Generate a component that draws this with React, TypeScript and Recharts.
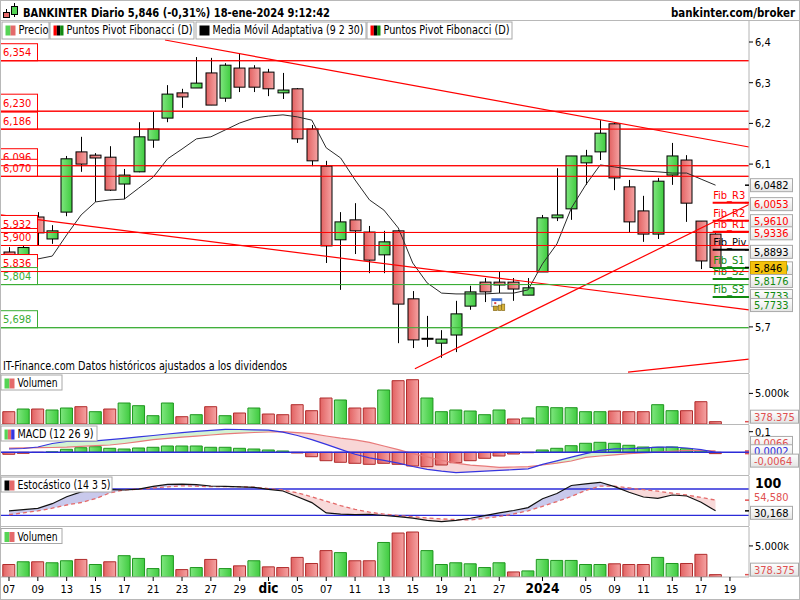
import React from 'react';
import {
  ComposedChart,
  Bar,
  Line,
  Area,
  XAxis,
  YAxis,
  ReferenceLine,
  ReferenceDot,
  Cell,
} from 'recharts';

const FONT = "'DejaVu Sans Condensed', 'Liberation Sans', Arial, sans-serif";
const RED = '#ff0000';
const PIVOT_GREEN = '#3aad35';
const FIB_GREEN = '#108a10';
const BLUE = '#2b2bd8';

// sessions 07-nov-2023 .. 18-ene-2024 (index 50 = 19-ene, empty slot on the axis)
const sessionDays = [
  '07', '08', '09', '10', '13', '14', '15', '16', '17', '20', '21', '22', '23', '24', '27', '28', '29', '30',
  '01', '04', '05', '06', '07', '08', '11', '12', '13', '14', '15', '18', '19', '20', '21', '22', '27', '28', '29',
  '02', '03', '04', '05', '08', '09', '10', '11', '12', '15', '16', '17', '18',
];

const tickIndex = [0, 2, 4, 6, 8, 10, 12, 14, 16, 18, 20, 22, 24, 26, 28, 30, 32, 34, 37, 40, 42, 44, 46, 48, 50];
const tickLabels = ['07', '09', '13', '15', '17', '21', '23', '27', '29', 'dic', '05', '07', '11', '13', '15', '19', '21', '27', '2024', '05', '09', '11', '15', '17', '19'];

const opens = [5.884, 5.855, 5.970, 5.916, 5.982, 6.130, 6.122, 6.117, 6.051, 6.081, 6.159, 6.213, 6.275, 6.287, 6.324, 6.262, 6.336, 6.336, 6.326, 6.275, 6.285, 6.186, 6.095, 5.914, 5.963, 5.933, 5.877, 5.936, 5.769, 5.672, 5.660, 5.680, 5.751, 5.810, 5.810, 5.810, 5.778, 5.835, 5.968, 5.990, 6.103, 6.130, 6.199, 6.044, 5.985, 5.928, 6.073, 6.110, 5.960, 5.928];
const highs = [5.896, 5.900, 5.982, 5.950, 6.120, 6.167, 6.127, 6.144, 6.088, 6.203, 6.228, 6.294, 6.285, 6.363, 6.361, 6.348, 6.373, 6.343, 6.334, 6.324, 6.287, 6.196, 6.108, 5.982, 6.004, 5.948, 5.936, 5.938, 5.788, 5.727, 5.692, 5.764, 5.801, 5.820, 5.837, 5.820, 5.820, 5.975, 6.090, 6.120, 6.135, 6.208, 6.201, 6.061, 6.022, 6.066, 6.152, 6.122, 5.960, 5.930];
const lows = [5.845, 5.850, 5.901, 5.904, 5.972, 6.081, 6.007, 6.034, 6.014, 6.080, 6.140, 6.203, 6.238, 6.287, 6.245, 6.253, 6.277, 6.277, 6.267, 6.260, 6.152, 6.095, 5.857, 5.791, 5.879, 5.832, 5.832, 5.660, 5.648, 5.651, 5.624, 5.638, 5.742, 5.761, 5.783, 5.764, 5.778, 5.835, 5.960, 5.963, 6.049, 6.110, 6.036, 5.931, 5.909, 5.916, 6.049, 5.958, 5.842, 5.844];
const closes = [5.860, 5.895, 5.931, 5.936, 6.113, 6.100, 6.115, 6.036, 6.073, 6.167, 6.186, 6.272, 6.265, 6.299, 6.245, 6.343, 6.289, 6.289, 6.285, 6.282, 6.162, 6.108, 5.899, 5.958, 5.936, 5.864, 5.909, 5.756, 5.668, 5.670, 5.670, 5.732, 5.786, 5.786, 5.803, 5.793, 5.796, 5.968, 5.975, 6.120, 6.120, 6.176, 6.066, 5.958, 5.928, 6.058, 6.120, 6.004, 5.862, 5.846];

// Media Móvil Adaptativa (9 2 30)
const adaptiveMA = [null, null, 5.867, 5.874, 5.926, 5.975, 6.007, 6.012, 6.014, 6.041, 6.068, 6.113, 6.137, 6.162, 6.167, 6.184, 6.201, 6.213, 6.218, 6.221, 6.216, 6.208, 6.140, 6.115, 6.061, 6.012, 5.987, 5.943, 5.857, 5.808, 5.783, 5.781, 5.781, 5.781, 5.783, 5.783, 5.791, 5.855, 5.904, 5.992, 6.049, 6.098, 6.093, 6.088, 6.083, 6.081, 6.078, 6.078, 6.063, 6.0482];

const volumes = [2010000, 2451000, 2451000, 2288000, 2614000, 2827000, 2010000, 2451000, 3431000, 2990000, 1356000, 3431000, 1193000, 1520000, 2827000, 1356000, 1797000, 2614000, 1634000, 1520000, 3154000, 2173000, 4248000, 3922000, 2614000, 2614000, 5556000, 7075000, 7239000, 4248000, 2010000, 2288000, 2124000, 1520000, 2288000, 817000, 980000, 2827000, 2663000, 2663000, 2010000, 2010000, 2124000, 2010000, 2010000, 3154000, 2173000, 2173000, 3644000, 378375];
const volumeUp = [0, 1, 0, 1, 1, 0, 1, 0, 1, 1, 1, 1, 0, 1, 0, 1, 0, 1, 0, 0, 0, 0, 0, 1, 0, 0, 1, 0, 0, 1, 1, 1, 1, 1, 1, 0, 1, 1, 1, 1, 1, 1, 0, 0, 0, 1, 1, 0, 0, 0];

// MACD (12 26 9)
const macdLine = [0.016, 0.0184, 0.0257, 0.0427, 0.0524, 0.0539, 0.0558, 0.0612, 0.068, 0.0752, 0.0816, 0.0888, 0.0951, 0.1015, 0.1063, 0.1112, 0.1107, 0.1092, 0.1078, 0.0981, 0.0816, 0.0617, 0.0383, 0.0141, -0.0097, -0.0267, -0.0393, -0.0524, -0.0689, -0.0825, -0.0917, -0.0985, -0.0947, -0.0913, -0.0879, -0.0845, -0.0801, -0.0587, -0.0413, -0.0238, -0.0063, 0.0097, 0.0165, 0.0175, 0.0204, 0.0248, 0.0257, 0.0209, 0.0126, 0.0002];
const macdSignal = [0.0199, 0.0214, 0.0223, 0.0233, 0.0252, 0.0291, 0.0325, 0.0354, 0.0427, 0.0515, 0.0612, 0.068, 0.0733, 0.0786, 0.084, 0.0893, 0.0932, 0.0961, 0.0985, 0.1, 0.0951, 0.0907, 0.0791, 0.0684, 0.0602, 0.0481, 0.0306, 0.0131, -0.0063, -0.0223, -0.0393, -0.0529, -0.0626, -0.0675, -0.0728, -0.0714, -0.0699, -0.0617, -0.0529, -0.0422, -0.0243, -0.018, -0.0121, -0.0063, -0.0034, 0.001, 0.0044, 0.0092, 0.0087, 0.0066];
const macdHist = [-0.0097, -0.005, -0.001, 0.002, 0.0146, 0.0223, 0.0272, 0.0194, 0.016, 0.0209, 0.0243, 0.0306, 0.0306, 0.0306, 0.0243, 0.0243, 0.0194, 0.016, 0.0112, 0.0063, -0.0034, -0.0214, -0.0408, -0.0485, -0.0534, -0.0583, -0.0534, -0.0583, -0.0665, -0.0699, -0.0617, -0.0505, -0.0408, -0.0291, -0.018, -0.0083, -0.002, 0.0112, 0.0194, 0.032, 0.0437, 0.0485, 0.0437, 0.034, 0.0257, 0.0243, 0.0257, 0.0175, 0.0078, -0.0064];

// Estocástico (14 3 5)
const stochK = [30.0, 32.8, 36.0, 46.5, 62.4, 73.4, 79.1, 78.4, 77.7, 79.8, 85.9, 90.5, 91.2, 89.8, 86.8, 85.9, 84.8, 83.7, 79.3, 75.4, 62.2, 49.0, 25.5, 22.7, 21.6, 22.0, 19.5, 17.0, 13.6, 8.6, 5.6, 8.4, 13.2, 19.1, 25.5, 30.9, 37.6, 57.9, 69.7, 88.0, 91.6, 95.3, 85.5, 72.5, 61.7, 58.8, 66.3, 64.0, 49.9, 30.168];
const stochD = [21.4, 25.7, 30.0, 36.2, 43.5, 49.2, 57.9, 71.1, 77.9, 79.8, 82.3, 85.0, 87.3, 86.4, 85.2, 85.2, 85.2, 84.1, 80.9, 77.7, 71.3, 62.2, 52.2, 42.1, 33.7, 27.1, 22.7, 19.3, 16.8, 13.8, 11.8, 10.2, 9.5, 13.2, 17.3, 23.0, 30.3, 40.5, 51.3, 63.1, 76.8, 86.6, 86.4, 82.5, 78.4, 75.0, 70.4, 66.3, 60.6, 54.58];

// pivot levels listed at the left edge
const pivotValues = [6.354, 6.23, 6.186, 6.096, 6.07, 5.932, 5.9, 5.836, 5.804, 5.698];
const pivotSupport = [0, 0, 0, 0, 0, 0, 0, 0, 1, 1];

// daily Fibonacci pivots (projected over the last session)
const fibNames = ['Fib_R3', 'Fib_R2', 'Fib_R1', 'Fib_Piv', 'Fib_S1', 'Fib_S2', 'Fib_S3'];
const fibValues = [6.0053, 5.961, 5.9336, 5.8893, 5.845, 5.8176, 5.7733];
const fibColors = [RED, RED, RED, '#000', FIB_GREEN, FIB_GREEN, FIB_GREEN];
const FIB_FROM = 48.8;

// trend lines: [index, price] pairs
const trendLines = [
  [[10.82, 6.405], [51.32, 6.142]],
  [[-0.6, 5.975], [51.32, 5.742]],
  [[28.15, 5.597], [51.32, 6.0007]],
  [[42.93, 5.589], [51.32, 5.621]],
];

const dividendIndex = 34;

const X_MIN = -0.624;
const X_MAX = 51.32;

type Tag = { value: number; text: string; color: string; dy: number; box: 'gray' | 'gold' | 'none' };

const priceTags: Tag[] = [
  { value: 6.0482, text: '6,0482', color: '#000', dy: 0, box: 'gray' },
  { value: 6.0053, text: '6,0053', color: RED, dy: 1.5, box: 'gray' },
  { value: 5.961, text: '5,9610', color: RED, dy: 0.5, box: 'gray' },
  { value: 5.9336, text: '5,9336', color: RED, dy: 1.5, box: 'gray' },
  { value: 5.8893, text: '5,8893', color: '#000', dy: 2, box: 'gray' },
  { value: 5.845, text: '5,8450', color: FIB_GREEN, dy: 0.5, box: 'gray' },
  { value: 5.846, text: '5,846', color: '#000', dy: 0.5, box: 'gold' },
  { value: 5.8176, text: '5,8176', color: FIB_GREEN, dy: 2, box: 'gray' },
  { value: 5.7733, text: '5,7733', color: FIB_GREEN, dy: -1, box: 'gray' },
  { value: 5.7733, text: '5,7733', color: FIB_GREEN, dy: 8, box: 'gray' },
];
const volumeTags: Tag[] = [{ value: 378375, text: '378.375', color: '#e05050', dy: -5, box: 'gray' }];
const macdTags: Tag[] = [
  { value: 0.0066, text: '0,0066', color: '#e05050', dy: -8, box: 'gray' },
  { value: 0.0002, text: '0,0002', color: BLUE, dy: -1, box: 'gray' },
  { value: -0.0064, text: '-0,0064', color: '#e05050', dy: 7, box: 'gray' },
];
const stochTags: Tag[] = [
  { value: 54.58, text: '54,580', color: '#e05050', dy: -3, box: 'none' },
  { value: 30.168, text: '30,168', color: '#000', dy: 2, box: 'gray' },
];

const rows = opens.map((o, i) => {
  const m = macdLine[i];
  const s = macdSignal[i];
  const k = stochK[i];
  const d = stochD[i];
  return {
    i,
    o,
    h: highs[i],
    l: lows[i],
    c: closes[i],
    range: [lows[i], highs[i]],
    ma: adaptiveMA[i],
    vol: volumes[i],
    macd: m,
    signal: s,
    hist: macdHist[i],
    macdAbove: m >= s ? [s, m] : [m, m],
    macdBelow: s > m ? [m, s] : [s, s],
    k,
    d,
    kAbove: k >= d ? [d, k] : [k, k],
    kBelow: d > k ? [k, d] : [d, d],
  };
});

const Candle = (props: any) => {
  const { x, y, width, height, payload } = props;
  if (payload == null || !isFinite(y) || !isFinite(height)) return null;
  const { o, h, l, c } = payload;
  const toY = (v: number) => y + ((h - v) / (h - l)) * height;
  const cx = Math.round(x + width / 2) + 0.5;
  const top = toY(Math.max(o, c));
  const bottom = toY(Math.min(o, c));
  const up = c >= o;
  return (
    <g>
      <line x1={cx} x2={cx} y1={y} y2={y + height} stroke="#000" strokeWidth={1} />
      <rect
        x={cx - 5.5}
        y={top}
        width={11}
        height={Math.max(bottom - top, 1)}
        fill={up ? 'url(#gUp)' : 'url(#gDn)'}
        stroke="#000"
        strokeWidth={1}
      />
    </g>
  );
};

const leftBox = (text: string, color: string) => (props: any) => {
  const vb = props.viewBox || {};
  const x = vb.x ?? 0;
  const y = vb.y ?? 0;
  return (
    <g>
      <rect x={x + 0.5} y={y - 17} width={37} height={17} fill="#fff" stroke={color} />
      <text x={x + 3} y={y - 4.5} fill={color} fontSize={11} fontFamily={FONT}>
        {text}
      </text>
    </g>
  );
};

const rightTag = (tag: Tag) => (props: any) => {
  const vb = props.viewBox || {};
  const edge = (vb.x ?? 0) + (vb.width ?? 0);
  const y0 = vb.y ?? 0;
  const cy = y0 + tag.dy;
  const w = tag.text.length * 6 + 6;
  return (
    <g>
      <line x1={edge - 4} x2={edge} y1={y0} y2={y0} stroke={tag.color} strokeWidth={1.5} />
      {tag.box !== 'none' && (
        <rect
          x={edge + 1.5}
          y={cy - 6.5}
          width={w}
          height={13}
          fill={tag.box === 'gold' ? '#f4c20d' : 'url(#gTag)'}
          stroke={tag.box === 'gold' ? '#caa000' : '#a9a9a9'}
        />
      )}
      <text x={edge + 5} y={cy + 4} fill={tag.color} fontSize={11} fontFamily={FONT}>
        {tag.text}
      </text>
    </g>
  );
};

const fibLabel = (name: string, color: string) => (props: any) => {
  const vb = props.viewBox || {};
  return (
    <text x={(vb.x ?? 0) + 0.5} y={(vb.y ?? 0) - 4} fill={color} fontSize={11} fontFamily={FONT}>
      {name}
    </text>
  );
};

const DividendIcon = (props: any) => {
  const { cx, cy } = props;
  if (!isFinite(cx) || !isFinite(cy)) return null;
  return (
    <g>
      <rect x={cx - 7.5} y={cy + 5.5} width={10} height={8} fill="#fff" stroke="#8aa0c8" />
      <rect x={cx - 7.5} y={cy + 5.5} width={10} height={2.5} fill="#3d6fd0" />
      <rect x={cx - 5} y={cy + 9} width={2} height={2} fill="#e04040" />
      <rect x={cx - 6} y={cy + 13} width={4} height={4.5} fill="#c9a227" stroke="#7a5e10" strokeWidth={0.6} />
      <rect x={cx - 1} y={cy + 12} width={3} height={5.5} fill="#d9b43a" stroke="#7a5e10" strokeWidth={0.6} />
      <rect x={cx + 2.5} y={cy + 11} width={3} height={6.5} fill="#d9b43a" stroke="#7a5e10" strokeWidth={0.6} />
    </g>
  );
};

const XTick = (props: any) => {
  const { x, y, payload } = props;
  const label = tickLabels[tickIndex.indexOf(payload.value)] ?? '';
  const bold = label === 'dic' || label === '2024';
  return (
    <text
      x={x}
      y={y + 10}
      textAnchor="middle"
      fontFamily={FONT}
      fontSize={bold ? 13.5 : 11}
      fontWeight={bold ? 'bold' : 'normal'}
      fill="#000"
    >
      {label}
    </text>
  );
};

const StochTick = (props: any) => (
  <text x={props.x} y={props.y + 7.5} fontFamily={FONT} fontSize={14} fontWeight="bold" fill="#000">
    100
  </text>
);

const axisTick = { fill: '#000', fontSize: 11, fontFamily: FONT };
const margin = { top: 0, right: 0, bottom: 0, left: 0 };
const hiddenX = (
  <XAxis type="number" dataKey="i" domain={[X_MIN, X_MAX]} allowDataOverflow hide />
);

function PricePanel() {
  return (
    <ComposedChart width={800} height={352} data={rows} margin={margin}>
      {hiddenX}
      <YAxis
        orientation="right"
        width={51}
        type="number"
        domain={[5.5867, 6.4516]}
        allowDataOverflow
        ticks={[6.4, 6.3, 6.2, 6.1, 5.7]}
        interval={0}
        tickFormatter={(v: number) => v.toFixed(1).replace('.', ',')}
        tick={axisTick}
        tickSize={4}
        tickMargin={2}
        tickLine={{ stroke: '#000' }}
        axisLine={{ stroke: '#b4b4b4' }}
      />
      {pivotValues.map((v, n) => (
        <ReferenceLine
          key={'pv' + n}
          y={v}
          stroke={pivotSupport[n] ? PIVOT_GREEN : RED}
          strokeWidth={1}
          ifOverflow="visible"
          zIndex={50}
        />
      ))}
      <Bar dataKey="range" barSize={12} shape={<Candle />} isAnimationActive={false} zIndex={100} />
      <Line
        dataKey="ma"
        type="linear"
        stroke="#2a2a2a"
        strokeWidth={1}
        dot={false}
        isAnimationActive={false}
        zIndex={200}
      />
      {trendLines.map((t, n) => (
        <ReferenceLine
          key={'tl' + n}
          segment={[
            { x: t[0][0], y: t[0][1] },
            { x: t[1][0], y: t[1][1] },
          ]}
          stroke={RED}
          strokeWidth={1.2}
          ifOverflow="visible"
          zIndex={300}
        />
      ))}
      {fibValues.map((v, n) => (
        <ReferenceLine
          key={'fib' + n}
          segment={[
            { x: FIB_FROM, y: v },
            { x: X_MAX, y: v },
          ]}
          stroke={fibColors[n]}
          strokeWidth={2}
          ifOverflow="visible"
          label={fibLabel(fibNames[n], fibColors[n])}
          zIndex={350}
        />
      ))}
      <ReferenceDot
        x={dividendIndex}
        y={lows[dividendIndex]}
        r={1}
        ifOverflow="visible"
        shape={<DividendIcon />}
        zIndex={360}
      />
      {pivotValues.map((v, n) => {
        const color = pivotSupport[n] ? PIVOT_GREEN : RED;
        return (
          <ReferenceLine
            key={'pb' + n}
            y={v}
            stroke="none"
            ifOverflow="visible"
            label={leftBox(v.toFixed(3).replace('.', ','), color)}
            zIndex={400}
          />
        );
      })}
      {pivotValues.map((v, n) => (
        <ReferenceLine
          key={'pv2' + n}
          y={v}
          stroke={pivotSupport[n] ? PIVOT_GREEN : RED}
          strokeWidth={1}
          ifOverflow="visible"
          segment={[
            { x: X_MIN, y: v },
            { x: X_MIN + 2.6, y: v },
          ]}
          zIndex={410}
        />
      ))}
      {priceTags.map((t, n) => (
        <ReferenceLine key={'pt' + n} y={t.value} stroke="none" ifOverflow="visible" label={rightTag(t)} zIndex={500} />
      ))}
    </ComposedChart>
  );
}

function VolumePanel({ max, withAxis }: { max: number; withAxis: boolean }) {
  return (
    <ComposedChart width={800} height={withAxis ? 73 : 50} data={rows} margin={margin}>
      {withAxis ? (
        <XAxis
          type="number"
          dataKey="i"
          domain={[X_MIN, X_MAX]}
          allowDataOverflow
          ticks={tickIndex}
          interval={0}
          height={23}
          tick={<XTick />}
          tickSize={4}
          tickMargin={2}
          tickLine={{ stroke: '#000' }}
          axisLine={{ stroke: '#b4b4b4' }}
        />
      ) : (
        hiddenX
      )}
      <YAxis
        orientation="right"
        width={51}
        type="number"
        domain={[0, max]}
        allowDataOverflow
        ticks={[5000000]}
        interval={0}
        tickFormatter={() => '5.000k'}
        tick={axisTick}
        tickSize={4}
        tickMargin={2}
        tickLine={{ stroke: '#000' }}
        axisLine={{ stroke: '#b4b4b4' }}
      />
      <Bar dataKey="vol" barSize={12} isAnimationActive={false}>
        {rows.map((r, n) => (
          <Cell
            key={n}
            fill={volumeUp[n] ? 'url(#gUp)' : 'url(#gDn)'}
            stroke={volumeUp[n] ? '#1f961f' : '#b02c2c'}
            strokeWidth={1}
          />
        ))}
      </Bar>
      {volumeTags.map((t, n) => (
        <ReferenceLine key={'vt' + n} y={t.value} stroke="none" ifOverflow="visible" label={rightTag(t)} />
      ))}
    </ComposedChart>
  );
}

function MacdPanel() {
  return (
    <ComposedChart width={800} height={50} data={rows} margin={margin}>
      {hiddenX}
      <YAxis
        orientation="right"
        width={51}
        type="number"
        domain={[-0.1102, 0.1325]}
        allowDataOverflow
        ticks={[0.1]}
        interval={0}
        tickFormatter={() => '0,1'}
        tick={axisTick}
        tickSize={4}
        tickMargin={2}
        tickLine={{ stroke: '#000' }}
        axisLine={{ stroke: '#b4b4b4' }}
      />
      <Area dataKey="macdAbove" type="linear" stroke="none" fill="#d3f3d3" fillOpacity={1} isAnimationActive={false} zIndex={50} />
      <Area dataKey="macdBelow" type="linear" stroke="none" fill="#f8d6d6" fillOpacity={1} isAnimationActive={false} zIndex={50} />
      <Bar dataKey="hist" barSize={12} isAnimationActive={false} zIndex={100}>
        {rows.map((r, n) => (
          <Cell
            key={n}
            fill={r.hist >= 0 ? 'url(#gUp)' : 'url(#gDn)'}
            stroke={r.hist >= 0 ? '#1f961f' : '#b02c2c'}
            strokeWidth={1}
          />
        ))}
      </Bar>
      <Line dataKey="signal" type="linear" stroke="#e87a7a" strokeWidth={1.2} dot={false} isAnimationActive={false} zIndex={200} />
      <Line dataKey="macd" type="linear" stroke="#3535e0" strokeWidth={1.2} dot={false} isAnimationActive={false} zIndex={210} />
      <ReferenceLine y={0} stroke={BLUE} strokeWidth={1.5} ifOverflow="visible" zIndex={300} />
      {macdTags.map((t, n) => (
        <ReferenceLine key={'mt' + n} y={t.value} stroke="none" ifOverflow="visible" label={rightTag(t)} zIndex={500} />
      ))}
    </ComposedChart>
  );
}

function StochPanel() {
  return (
    <ComposedChart width={800} height={50} data={rows} margin={margin}>
      {hiddenX}
      <YAxis
        orientation="right"
        width={51}
        type="number"
        domain={[-4.42, 109.66]}
        allowDataOverflow
        ticks={[100]}
        interval={0}
        tick={<StochTick />}
        tickSize={4}
        tickMargin={2}
        tickLine={false}
        axisLine={{ stroke: '#b4b4b4' }}
      />
      <Area dataKey="kAbove" type="linear" stroke="none" fill="#c9c9ec" fillOpacity={1} isAnimationActive={false} zIndex={50} />
      <Area dataKey="kBelow" type="linear" stroke="none" fill="#f8dada" fillOpacity={1} isAnimationActive={false} zIndex={50} />
      <ReferenceLine y={80} stroke={BLUE} strokeWidth={1.3} ifOverflow="visible" zIndex={100} />
      <ReferenceLine y={20} stroke={BLUE} strokeWidth={1.3} ifOverflow="visible" zIndex={100} />
      <Line
        dataKey="d"
        type="linear"
        stroke="#e46a6a"
        strokeWidth={1.3}
        strokeDasharray="4 3"
        dot={false}
        isAnimationActive={false}
        zIndex={200}
      />
      <Line dataKey="k" type="linear" stroke="#111" strokeWidth={1.2} dot={false} isAnimationActive={false} zIndex={210} />
      {stochTags.map((t, n) => (
        <ReferenceLine key={'st' + n} y={t.value} stroke="none" ifOverflow="visible" label={rightTag(t)} zIndex={500} />
      ))}
    </ComposedChart>
  );
}

const LegendBox = ({ x, w, y, h, colors, text, textW }: any) => (
  <g>
    <rect x={x + 0.5} y={y + 0.5} width={w} height={h} fill="#fff" stroke="#a8a8a8" />
    {colors.map((c: string, n: number) => (
      <rect key={n} x={x + 4 + (n * 10) / colors.length} y={y + 4} width={10 / colors.length} height={10} fill={c} />
    ))}
    <text
      x={x + 17}
      y={y + 12.5}
      fontFamily={FONT}
      fontSize={11.5}
      fill="#000"
      textLength={textW}
      lengthAdjust="spacingAndGlyphs"
    >
      {text}
    </text>
  </g>
);

function Chrome() {
  const sepY = [373.5, 424.5, 475.5, 526.5];
  return (
    <svg width={800} height={600} style={{ position: 'absolute', left: 0, top: 0, pointerEvents: 'none' }}>
      <rect x={0.5} y={0.5} width={799} height={599} fill="none" stroke="#b8b8b8" />
      <line x1={0} x2={800} y1={20.5} y2={20.5} stroke="#b8b8b8" />
      {sepY.map((y) => (
        <line key={y} x1={0} x2={749} y1={y} y2={y} stroke="#b8b8b8" />
      ))}
      {/* title icon */}
      <line x1={6.5} x2={6.5} y1={9} y2={18} stroke="#000" />
      <rect x={3.5} y={12.5} width={6} height={5} fill="#e46a6a" stroke="#000" />
      <line x1={14.5} x2={14.5} y1={3} y2={17} stroke="#000" />
      <rect x={11.5} y={6.5} width={6} height={8} fill="#55d455" stroke="#000" />
      <text x={23} y={16.5} fontFamily={FONT} fontSize={12.5} fontWeight="bold" fill="#000" textLength={307} lengthAdjust="spacingAndGlyphs">
        BANKINTER Diario 5,846 (-0,31%) 18-ene-2024 9:12:42
      </text>
      <text x={671} y={16.5} fontFamily={FONT} fontSize={12.5} fontWeight="bold" fill="#000" textLength={124} lengthAdjust="spacingAndGlyphs">
        bankinter.com/broker
      </text>
      <LegendBox x={1.5} y={21.5} w={47} h={17} colors={['#55d455', '#e46a6a']} text="Precio" textW={30} />
      <LegendBox x={49.5} y={21.5} w={144} h={17} colors={['#ff0000', '#000', '#108a10']} text="Puntos Pivot Fibonacci (D)" textW={126} />
      <LegendBox x={195.5} y={21.5} w={170} h={17} colors={['#000']} text="Media Móvil Adaptativa (9 2 30)" textW={151} />
      <LegendBox x={366.5} y={21.5} w={145} h={17} colors={['#ff0000', '#000', '#108a10']} text="Puntos Pivot Fibonacci (D)" textW={126} />
      <text x={3} y={370} fontFamily={FONT} fontSize={11.5} fill="#000" textLength={284} lengthAdjust="spacingAndGlyphs">
        IT-Finance.com  Datos históricos ajustados a los dividendos
      </text>
      <LegendBox x={0.5} y={374.5} w={61} h={15} colors={['#55d455', '#e46a6a']} text="Volumen" textW={40} />
      <LegendBox x={0.5} y={425.5} w={96} h={15} colors={['#55d455', '#e46a6a', '#3535e0']} text="MACD (12 26 9)" textW={76} />
      <LegendBox x={0.5} y={476.5} w={111} h={15} colors={['#000', '#e46a6a']} text="Estocástico (14 3 5)" textW={93} />
      <LegendBox x={0.5} y={528} w={61} h={15} colors={['#55d455', '#e46a6a']} text="Volumen" textW={40} />
    </svg>
  );
}

export default function App() {
  return (
    <div style={{ position: 'absolute', left: 0, top: 0, width: 800, height: 600, background: '#fff', overflow: 'hidden' }}>
      <svg width={0} height={0} style={{ position: 'absolute' }}>
        <defs>
          <linearGradient id="gUp" x1="0" y1="0" x2="1" y2="0">
            <stop offset="0%" stopColor="#7fe67f" />
            <stop offset="100%" stopColor="#3fcb3f" />
          </linearGradient>
          <linearGradient id="gDn" x1="0" y1="0" x2="1" y2="0">
            <stop offset="0%" stopColor="#e26262" />
            <stop offset="100%" stopColor="#f5a3a3" />
          </linearGradient>
          <linearGradient id="gTag" x1="0" y1="0" x2="0" y2="1">
            <stop offset="0%" stopColor="#ffffff" />
            <stop offset="100%" stopColor="#e4e4e4" />
          </linearGradient>
        </defs>
      </svg>
      <div style={{ position: 'absolute', left: 0, top: 21 }}>
        <PricePanel />
      </div>
      <div style={{ position: 'absolute', left: 0, top: 374 }}>
        <VolumePanel max={8170000} withAxis={false} />
      </div>
      <div style={{ position: 'absolute', left: 0, top: 425 }}>
        <MacdPanel />
      </div>
      <div style={{ position: 'absolute', left: 0, top: 476 }}>
        <StochPanel />
      </div>
      <div style={{ position: 'absolute', left: 0, top: 527 }}>
        <VolumePanel max={8045000} withAxis={true} />
      </div>
      <Chrome />
    </div>
  );
}
